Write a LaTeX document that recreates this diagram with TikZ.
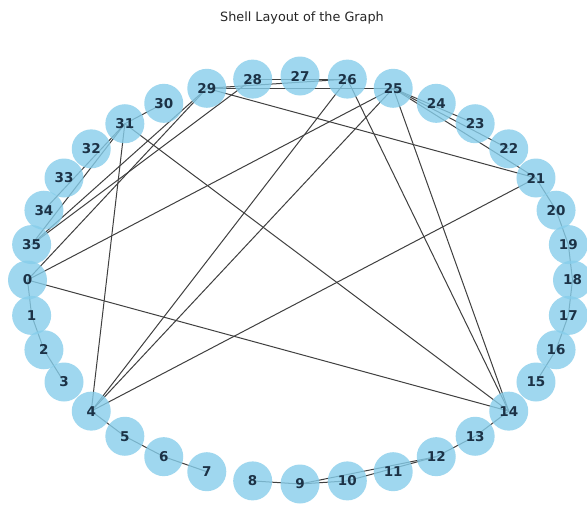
\documentclass[tikz,border=0pt]{standalone}
\usepackage{fontspec}
\setmainfont{DejaVu Sans}
\pgfdeclarelayer{bg}
\pgfdeclarelayer{edges}
\pgfsetlayers{bg,edges,main}
\definecolor{nodec}{HTML}{87CEEB}
\definecolor{labelc}{HTML}{1C3246}
\definecolor{edgec}{HTML}{404040}
\begin{document}
\begin{tikzpicture}[x=1pt, y=-1pt,
    vert/.style={circle, fill=nodec, fill opacity=0.8, text opacity=1,
                 minimum size=39pt, inner sep=0pt, text=labelc,
                 font=\fontsize{13.5}{14}\selectfont\bfseries},
    edge/.style={draw=edgec, line width=1pt},
    ttl/.style={font=\fontsize{12.8}{15}\selectfont, text=black!85}]
  \begin{pgfonlayer}{bg}
    \fill[white] (0,0) rectangle (587,506);
  \end{pgfonlayer}
  \useasboundingbox (0,0) rectangle (587,506);
  \node[ttl] (title) at (302,18) {Shell Layout of the Graph};
  % nodes on the shell
  \foreach \i in {0,...,35}
    \node[vert] (n\i) at ({300+272.5*cos(180+10*\i)},{280-204*sin(180+10*\i)}) {\i};
  % edges, under the nodes
  \begin{pgfonlayer}{edges}
    \foreach \a/\b in {0/1, 1/2, 2/3, 4/5, 5/6, 6/7, 8/9, 9/10, 9/12, 10/12,
        12/13, 13/14, 15/16, 16/17, 17/18, 18/19, 19/20, 20/21,
        0/14, 0/25, 0/29, 35/29, 35/28, 30/31, 31/34, 31/35, 31/4, 31/14,
        4/26, 4/25, 4/21, 26/14, 25/14, 29/21, 25/21, 25/22, 25/23,
        28/26, 29/26, 29/25}
      \draw[edge] (n\a.center) -- (n\b.center);
  \end{pgfonlayer}
\end{tikzpicture}
\end{document}
